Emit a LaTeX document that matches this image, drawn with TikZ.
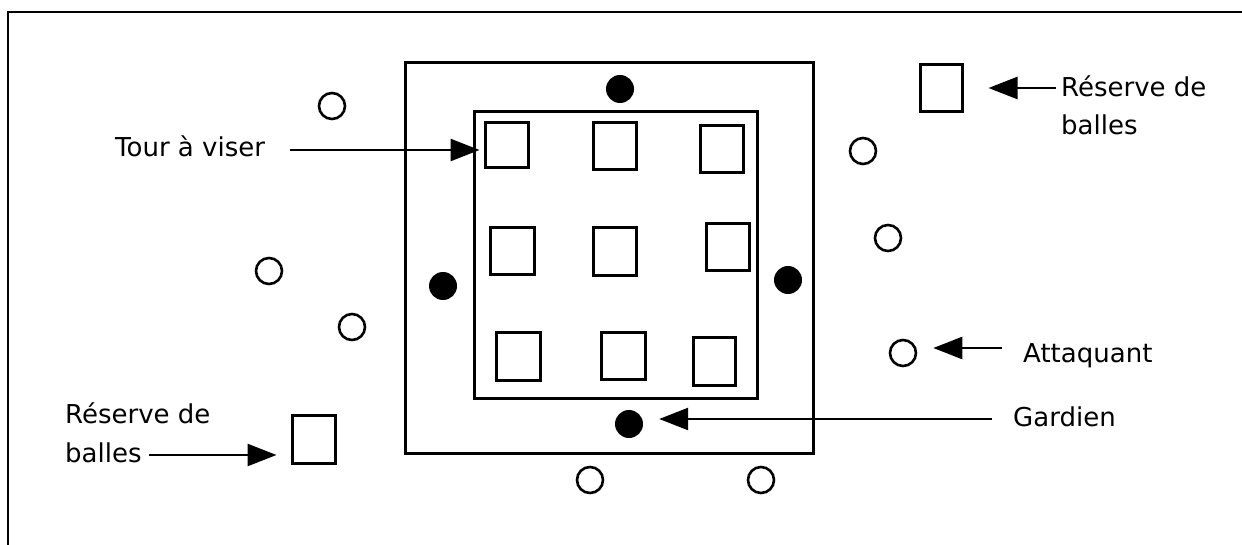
\documentclass[tikz,border=0pt]{standalone}
\usepackage{fontspec}
\setmainfont{DejaVu Sans}
\usetikzlibrary{arrows.meta}
\begin{document}
\begin{tikzpicture}[x=1pt,y=-1pt,
  sq/.style={draw, line width=3pt, inner sep=0pt, rectangle},
  field/.style={draw, line width=3pt, inner sep=0pt, rectangle},
  att/.style={draw, circle, line width=2.6pt, minimum size=26pt, inner sep=0pt},
  gard/.style={fill, circle, minimum size=28pt, inner sep=0pt},
  lab/.style={anchor=base west, inner sep=0pt, font=\fontsize{26}{30}\selectfont},
  arr/.style={line width=2.6pt, -{Triangle[length=29pt,width=22pt]}}]
\useasboundingbox (0,0) rectangle (1242,545);
\fill[white] (0,0) rectangle (1242,545);
% frame
\draw[line width=2.4pt] (8,545) -- (8,12) -- (1242,12);
% playing area
\node[field, minimum width=408pt, minimum height=390pt] (outer) at (609,258) {};
\node[field, minimum width=283pt, minimum height=286pt] (inner) at (615.5,255) {};
% towers
\node[sq, minimum width=43pt, minimum height=45pt] (t11) at (506.5,145.5) {};
\node[sq, minimum width=43pt, minimum height=47pt] (t12) at (614.5,146.5) {};
\node[sq, minimum width=43pt, minimum height=47pt] (t13) at (721.5,149.5) {};
\node[sq, minimum width=44pt, minimum height=47pt] (t21) at (512,251.5) {};
\node[sq, minimum width=43pt, minimum height=48pt] (t22) at (614.5,252) {};
\node[sq, minimum width=43pt, minimum height=47pt] (t23) at (727.5,247.5) {};
\node[sq, minimum width=44pt, minimum height=48pt] (t31) at (518,356) {};
\node[sq, minimum width=44pt, minimum height=47pt] (t32) at (623,355.5) {};
\node[sq, minimum width=42pt, minimum height=48pt] (t33) at (714,361) {};
% ball reserves
\node[sq, minimum width=42pt, minimum height=47pt] (r1) at (941,88.5) {};
\node[sq, minimum width=43pt, minimum height=48pt] (r2) at (313.5,439) {};
% guards
\node[gard] (g1) at (620,89) {};
\node[gard] (g2) at (443,286) {};
\node[gard] (g3) at (788,280) {};
\node[gard] (g4) at (629,424) {};
% attackers
\node[att] (c1) at (332,106) {};
\node[att] (c2) at (269,271) {};
\node[att] (c3) at (352,327) {};
\node[att] (c4) at (590,480) {};
\node[att] (c5) at (761,480) {};
\node[att] (c6) at (863,151) {};
\node[att] (c7) at (888,238) {};
\node[att] (c8) at (903,353) {};
% labels
\node[lab] (ltour) at (115,157) {Tour à viser};
\node[lab] (lres1) at (1061,97) {Réserve de};
\node[lab] (lres1b) at (1061,135) {balles};
\node[lab] (lres2) at (65,423) {Réserve de};
\node[lab] (lres2b) at (65,462) {balles};
\node[lab] (latt) at (1023,362) {Attaquant};
\node[lab] (lgard) at (1013,426) {Gardien};
% arrow start points
\coordinate (s1) at (290,150);
\coordinate (s2) at (1056,88);
\coordinate (s3) at (149,455);
\coordinate (s4) at (1002,348);
\coordinate (s5) at (992,419);
% arrows
\draw[arr, shorten >=4pt] (s1) -- (s1 -| t11.west);
\draw[arr, shorten >=25pt] (s2) -- (s2 -| r1.east);
\draw[arr, shorten >=14pt] (s3) -- (s3 -| r2.west);
\draw[arr, shorten >=16pt] (s4) -- (s4 -| c8.east);
\draw[arr, shorten >=16pt] (s5) -- (s5 -| g4.east);
\end{tikzpicture}
\end{document}
